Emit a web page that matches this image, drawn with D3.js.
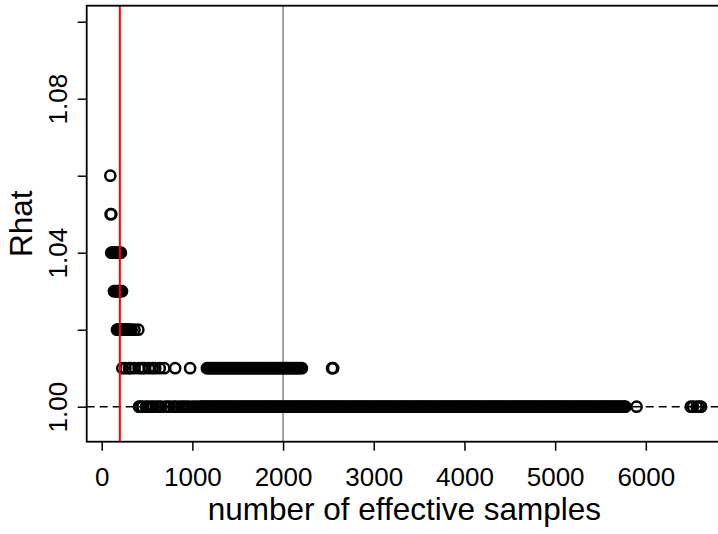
<!DOCTYPE html>
<meta charset="utf-8">
<head>
  <title>Rhat vs effective samples</title>
</head>
<style>
body { margin: 0; background: #fff; }
svg { display: block; font-family: "Liberation Sans", Arial, Helvetica, sans-serif; }
</style>
<body>
<script src="https://d3js.org/d3.v7.min.js"></script>
<script>

// ---- data: effective samples for each Rhat level ----
var ess106 = [95];
var ess105 = [98, 106];
var ess104 = [105, 118, 128, 140, 152, 165, 180, 196, 212];
var ess103 = [135, 148, 160, 172, 183, 196, 210, 224];
var ess102 = [168, 180, 192, 205, 218, 232, 245, 258, 270, 284, 298, 312, 330, 362, 404];
var ess101 = [228, 262, 300, 318, 360, 410, 440, 470, 520, 560, 590, 640, 690, 810, 975,
  1160, 1178, 1197, 1215, 1236, 1254, 1273, 1292, 1311, 1330, 1350, 1368, 1387, 1406,
  1426, 1444, 1463, 1482, 1501, 1520, 1540, 1558, 1577, 1596, 1616, 1634, 1653, 1672,
  1691, 1710, 1730, 1748, 1767, 1786, 1806, 1824, 1843, 1862, 1881, 1900, 1920, 1938,
  1957, 1976, 1996, 2014, 2033, 2052, 2071, 2090, 2110, 2128, 2147, 2166, 2186, 2208,
  2540, 2552];
var ess100 = [410, 428, 450, 488, 510, 545, 568, 600, 628, 655, 700, 725, 752, 790, 812,
  845, 880, 905, 935, 962, 1000, 1030, 1060,
  1090, 1108, 1127, 1145, 1166, 1184, 1203, 1221, 1242, 1260, 1279, 1300, 1318, 1337,
  1355, 1376, 1394, 1413, 1432, 1452, 1470, 1489, 1508, 1527, 1546, 1566, 1584, 1603,
  1622, 1642, 1660, 1679, 1698, 1717, 1736, 1756, 1774, 1793, 1812, 1832, 1850, 1869,
  1888, 1907, 1926, 1946, 1964, 1983, 2002, 2022, 2040, 2059, 2078, 2097, 2116, 2136,
  2154, 2173, 2192, 2212, 2230, 2249, 2268, 2287, 2306, 2326, 2344, 2363, 2382, 2402,
  2420, 2439, 2458, 2477, 2496, 2516, 2534, 2553, 2572, 2592, 2610, 2629, 2648, 2667,
  2686, 2706, 2724, 2743, 2762, 2782, 2800, 2819, 2838, 2857, 2876, 2896, 2914, 2933,
  2952, 2972, 2990, 3009, 3028, 3047, 3066, 3086, 3104, 3123, 3142, 3162, 3180, 3199,
  3218, 3237, 3256, 3276, 3294, 3313, 3332, 3352, 3370, 3389, 3408, 3427, 3446, 3466,
  3484, 3503, 3522, 3542, 3560, 3579, 3598, 3617, 3636, 3656, 3674, 3693, 3712, 3732,
  3750, 3769, 3788, 3807, 3826, 3846, 3864, 3883, 3902, 3922, 3940, 3959, 3978, 3997,
  4016, 4036, 4054, 4073, 4092, 4112, 4130, 4149, 4168, 4187, 4206, 4226, 4244, 4263,
  4282, 4302, 4320, 4339, 4358, 4377, 4396, 4416, 4434, 4453, 4472, 4492, 4510, 4529,
  4548, 4567, 4586, 4606, 4624, 4643, 4662, 4682, 4700, 4719, 4738, 4757, 4776, 4796,
  4814, 4833, 4852, 4872, 4890, 4909, 4928, 4947, 4966, 4986, 5004, 5023, 5042, 5062,
  5080, 5099, 5118, 5137, 5156, 5176, 5194, 5213, 5232, 5252, 5270, 5289, 5308, 5327,
  5346, 5366, 5384, 5403, 5422, 5442, 5460, 5479, 5498, 5517, 5536, 5556, 5574, 5593,
  5612, 5632, 5650, 5669, 5688, 5707, 5726, 5746, 5762, 5775,
  5898, 6495, 6520, 6560, 6585, 6610];

var xTicks = [0, 1000, 2000, 3000, 4000, 5000, 6000];
var yTicks = [1.00, 1.02, 1.04, 1.06, 1.08, 1.10];
var yLabelled = ["1.00", "1.04", "1.08"];
var minEss = 200, targetEss = 2000, rhatRef = 1;

var levels = [
  {rhat: 1.06, ess: ess106}, {rhat: 1.05, ess: ess105}, {rhat: 1.04, ess: ess104},
  {rhat: 1.03, ess: ess103}, {rhat: 1.02, ess: ess102}, {rhat: 1.01, ess: ess101},
  {rhat: 1.00, ess: ess100}
];
var points = [];
levels.forEach(function(l) {
  l.ess.forEach(function(e) { points.push({ess: e, rhat: l.rhat}); });
});

var w = 718, h = 534;
var plotL = 86.7, plotR = 722, plotT = 5.7, plotB = 441.7;

var svg = d3.select("body").append("svg")
  .attr("width", w)
  .attr("height", h);

var x = d3.scaleLinear().domain([-165.4, 6840]).range([plotL, plotR]);
var y = d3.scaleLinear().domain([0.99091, 1.10416]).range([plotB, plotT]);

// gray reference line goes under the points
svg.append("line")
  .attr("x1", x(targetEss)).attr("x2", x(targetEss))
  .attr("y1", plotT).attr("y2", plotB)
  .attr("stroke", "#8c8c8c").attr("stroke-width", 1.6);

svg.append("line")
  .attr("x1", plotL).attr("x2", plotR)
  .attr("y1", y(rhatRef)).attr("y2", y(rhatRef))
  .attr("stroke", "black").attr("stroke-width", 1.6)
  .attr("stroke-dasharray", "8,5");

svg.append("g").selectAll("circle")
  .data(points)
  .enter()
  .append("circle")
  .attr("cx", function(d) { return x(d.ess); })
  .attr("cy", function(d) { return y(d.rhat); })
  .attr("r", 5.1)
  .attr("fill", "none")
  .attr("stroke", "black")
  .attr("stroke-width", 2.5);

// red line on top
svg.append("line")
  .attr("x1", x(minEss)).attr("x2", x(minEss))
  .attr("y1", plotT).attr("y2", plotB)
  .attr("stroke", "#ff0000").attr("stroke-width", 2);

// box
svg.append("rect")
  .attr("x", plotL).attr("y", plotT)
  .attr("width", plotR - plotL).attr("height", plotB - plotT)
  .attr("fill", "none").attr("stroke", "black").attr("stroke-width", 1.8);

// axes
var xAxis = svg.append("g")
  .attr("transform", "translate(0," + plotB + ")")
  .call(d3.axisBottom(x).tickValues(xTicks).tickSize(9).tickFormat(d3.format("d")));
xAxis.select(".domain").remove();
xAxis.selectAll("line").attr("stroke", "black").attr("stroke-width", 1.5);
xAxis.selectAll("text")
  .attr("y", 44.3).attr("dy", 0)
  .attr("fill", "black")
  .style("font-size", "26px")
  .style("font-family", "'Liberation Sans', Arial, sans-serif");

var yAxis = svg.append("g")
  .attr("transform", "translate(" + plotL + ",0)")
  .call(d3.axisLeft(y).tickValues(yTicks).tickSize(9)
    .tickFormat(function(d) {
      var s = d3.format(".2f")(d);
      return yLabelled.indexOf(s) >= 0 ? s : "";
    }));
yAxis.select(".domain").remove();
yAxis.selectAll("line").attr("stroke", "black").attr("stroke-width", 1.5);
yAxis.selectAll("text")
  .attr("transform", "rotate(-90)")
  .attr("x", 0).attr("y", -20).attr("dy", 0)
  .attr("text-anchor", "middle")
  .attr("fill", "black")
  .style("font-size", "26px")
  .style("font-family", "'Liberation Sans', Arial, sans-serif");

// axis titles
svg.append("text")
  .attr("x", (plotL + plotR) / 2)
  .attr("y", 520)
  .attr("text-anchor", "middle")
  .style("font-size", "31.5px")
  .text("number of effective samples");

svg.append("text")
  .attr("transform", "translate(32," + ((plotT + plotB) / 2) + ") rotate(-90)")
  .attr("text-anchor", "middle")
  .style("font-size", "31.5px")
  .text("Rhat");

</script>
</body>
</html>
